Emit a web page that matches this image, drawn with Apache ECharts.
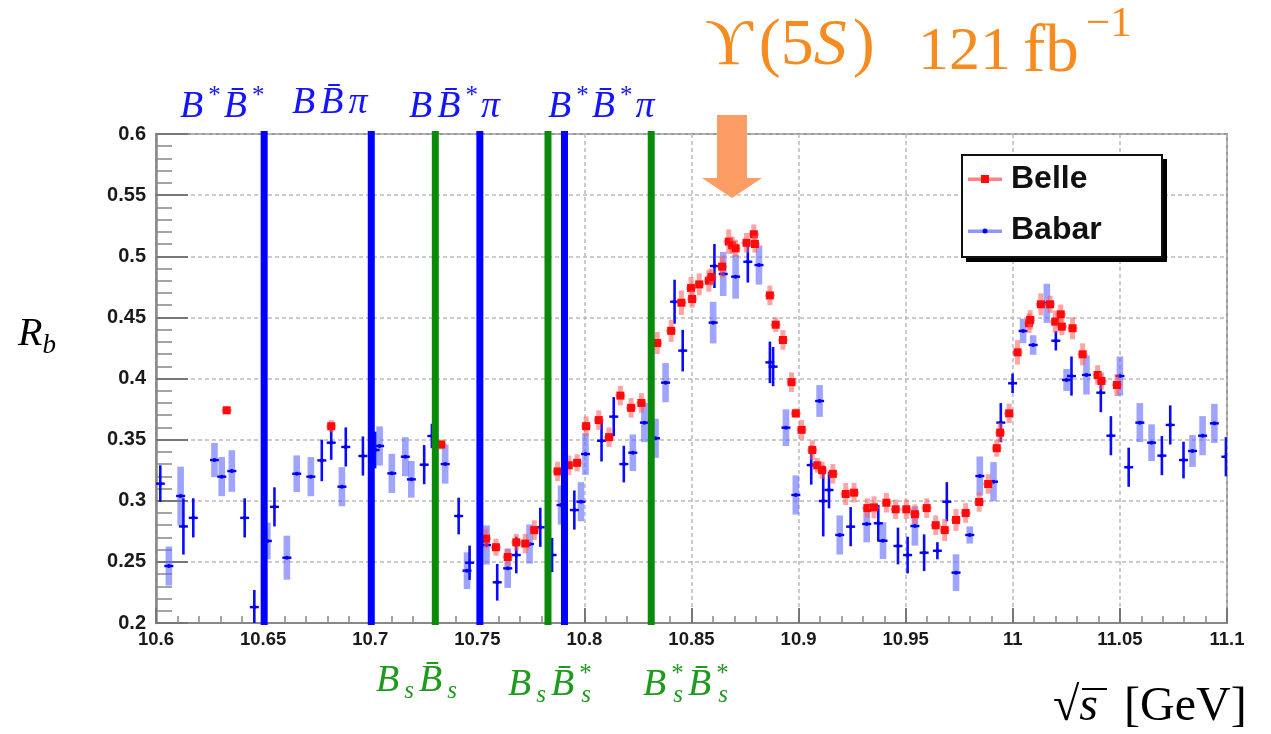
<!DOCTYPE html>
<html><head><meta charset="utf-8">
<script src="https://cdn.jsdelivr.net/npm/echarts@6/dist/echarts.min.js"></script>
<style>html,body{margin:0;padding:0;background:#fff}#c{width:1271px;height:734px}</style>
</head><body><div id="c"></div>
<script>
// ---- tick labels ----
const xTickLabels = ['10.6','10.65','10.7','10.75','10.8','10.85','10.9','10.95','11','11.05','11.1'];
const yTickLabels = ['0.2','0.25','0.3','0.35','0.4','0.45','0.5','0.55','0.6'];

// ---- Belle: sqrt(s), R_b, error ----
const belleX = [10.633,10.6818,10.7332,10.7541,10.7587,10.7642,10.7682,10.7724,10.7766,10.7875,10.7927,10.7966,10.8008,10.8067,10.8115,10.8168,10.8218,10.8266,10.834,10.8405,10.8453,10.8498,10.8503,10.8536,10.8581,10.8593,10.8643,10.8674,10.869,10.8706,10.8757,10.8791,10.8796,10.8866,10.8893,10.8927,10.8967,10.8987,10.9014,10.9064,10.9087,10.911,10.916,10.922,10.9259,10.9321,10.9352,10.941,10.9453,10.9503,10.9543,10.9598,10.964,10.9682,10.9735,10.978,10.9843,10.9885,10.9925,10.9941,10.9983,11.0022,11.0076,11.0081,11.0131,11.0174,11.0198,11.0224,11.0229,11.0279,11.0326,11.0396,11.0414,11.0486];
const belleY = [0.374,0.361,0.346,0.269,0.262,0.254,0.266,0.265,0.276,0.324,0.329,0.331,0.361,0.366,0.352,0.386,0.376,0.380,0.429,0.439,0.462,0.474,0.465,0.477,0.480,0.483,0.4915,0.512,0.509,0.5065,0.511,0.518,0.510,0.468,0.444,0.4315,0.397,0.3715,0.358,0.3415,0.329,0.325,0.322,0.3055,0.3066,0.294,0.2946,0.2984,0.293,0.293,0.289,0.294,0.280,0.276,0.2843,0.290,0.299,0.3137,0.343,0.3557,0.3715,0.4214,0.4452,0.4479,0.4607,0.4607,0.4465,0.4525,0.4424,0.4411,0.4198,0.4029,0.398,0.3947];
const belleErr = [0.002,0.005,0.004,0.008,0.007,0.007,0.007,0.008,0.008,0.008,0.008,0.007,0.008,0.008,0.008,0.008,0.008,0.008,0.009,0.009,0.010,0.009,0.007,0.009,0.009,0.007,0.009,0.010,0.007,0.007,0.008,0.008,0.007,0.008,0.006,0.008,0.008,0.004,0.008,0.008,0.006,0.007,0.008,0.009,0.008,0.008,0.009,0.008,0.008,0.008,0.008,0.008,0.008,0.009,0.009,0.008,0.008,0.008,0.007,0.008,0.008,0.010,0.008,0.008,0.009,0.007,0.009,0.008,0.007,0.009,0.009,0.008,0.007,0.009];

// ---- Babar points drawn with thin error bars ----
const babarThinX = [10.602,10.6128,10.6174,10.6414,10.6459,10.6553,10.6774,10.6818,10.6886,10.6966,10.7023,10.7252,10.7288,10.7413,10.7464,10.7593,10.7682,10.7794,10.7849,10.7953,10.808,10.8137,10.8184,10.8421,10.8459,10.8607,10.8763,10.8866,10.8881,10.9059,10.9115,10.9142,10.9243,10.9372,10.9464,10.9509,10.9586,10.9648,10.9692,10.9944,10.9999,11.0201,11.0274,11.0411,11.0458,11.0541,11.0696,11.0735,11.0797,11.0995];
const babarThinY = [0.314,0.279,0.286,0.286,0.213,0.295,0.333,0.3475,0.344,0.3366,0.3415,0.3295,0.353,0.2875,0.2493,0.2333,0.2556,0.2783,0.2556,0.2924,0.3491,0.3688,0.330,0.4628,0.4228,0.492,0.4955,0.4132,0.4097,0.3292,0.2998,0.3088,0.2788,0.2816,0.263,0.2556,0.2575,0.2591,0.2992,0.3639,0.3961,0.4309,0.402,0.3884,0.3532,0.3274,0.3369,0.362,0.3333,0.336];
const babarThinErr = [0.015,0.023,0.016,0.016,0.014,0.016,0.017,0.014,0.016,0.016,0.015,0.016,0.010,0.015,0.014,0.015,0.015,0.016,0.014,0.016,0.017,0.016,0.015,0.018,0.017,0.018,0.017,0.017,0.016,0.016,0.029,0.015,0.016,0.015,0.015,0.015,0.015,0.007,0.016,0.016,0.008,0.008,0.016,0.016,0.016,0.016,0.016,0.016,0.015,0.016];

// ---- Babar points drawn with wide error bars ----
const babarWideX = [10.606,10.6115,10.6273,10.6307,10.6354,10.652,10.6611,10.6657,10.6723,10.6868,10.7044,10.7101,10.7164,10.7192,10.735,10.7452,10.7543,10.7642,10.7744,10.7891,10.7984,10.8005,10.8226,10.828,10.8332,10.8379,10.8601,10.8648,10.8706,10.8815,10.8941,10.8987,10.9098,10.9192,10.9318,10.9394,10.9543,10.9735,10.9799,10.9846,10.991,11.0048,11.0095,11.0159,11.0251,11.0344,11.05,11.0593,11.0648,11.0839,11.0886,11.0941];
const babarWideY = [0.2466,0.3039,0.3333,0.3197,0.3243,0.2671,0.2534,0.3221,0.3197,0.3115,0.3448,0.3224,0.336,0.3175,0.330,0.2428,0.2638,0.2447,0.2646,0.2965,0.2992,0.3382,0.3393,0.3639,0.3511,0.3966,0.4457,0.4855,0.4833,0.4928,0.3598,0.3047,0.3816,0.272,0.281,0.2673,0.2793,0.2412,0.272,0.3202,0.3156,0.4389,0.4274,0.4615,0.3988,0.4029,0.402,0.3639,0.3475,0.3407,0.3532,0.3633];
const babarWideErr = [0.016,0.024,0.014,0.016,0.017,0.015,0.018,0.015,0.016,0.016,0.016,0.016,0.016,0.015,0.016,0.015,0.016,0.016,0.016,0.016,0.016,0.017,0.015,0.016,0.016,0.016,0.017,0.018,0.018,0.016,0.015,0.016,0.013,0.016,0.015,0.015,0.016,0.015,0.007,0.016,0.016,0.010,0.008,0.016,0.009,0.016,0.016,0.016,0.015,0.013,0.016,0.016];

// ---- thresholds (GeV) ----
const blueThresholds = [10.6505,10.7005,10.7512,10.7907];
const greenThresholds = [10.7304,10.7830,10.8312];

const zip3 = (a,b,c) => a.map((v,i)=>[v,b[i],c[i]]);

function makeRender(kind){
  return function(params, api){
    const x = api.value(0), y = api.value(1), e = api.value(2);
    const p = api.coord([x,y]), t = api.coord([x,y+e]), b = api.coord([x,y-e]);
    const ch = [];
    if (kind === 'belle'){
      ch.push({type:'rect', shape:{x:p[0]-2.5, y:t[1], width:5, height:b[1]-t[1]}, style:{fill:'rgba(255,90,90,0.55)'}});
      ch.push({type:'rect', shape:{x:p[0]-5, y:p[1]-1.5, width:10, height:3}, style:{fill:'rgba(255,90,90,0.55)'}});
      ch.push({type:'rect', shape:{x:p[0]-4, y:p[1]-4, width:8, height:8}, style:{fill:'#ff0a0a'}});
    } else if (kind === 'wide'){
      ch.push({type:'rect', shape:{x:p[0]-3.3, y:t[1], width:6.6, height:b[1]-t[1]}, style:{fill:'rgba(95,105,255,0.6)'}});
      ch.push({type:'rect', shape:{x:p[0]-4.5, y:p[1]-1.2, width:9, height:2.4}, style:{fill:'#0000ee'}});
      ch.push({type:'circle', shape:{cx:p[0], cy:p[1], r:2}, style:{fill:'#0000ee'}});
    } else {
      ch.push({type:'rect', shape:{x:p[0]-1.3, y:t[1], width:2.6, height:b[1]-t[1]}, style:{fill:'#0a0aff'}});
      ch.push({type:'rect', shape:{x:p[0]-4.5, y:p[1]-1.2, width:9, height:2.4}, style:{fill:'#0000ee'}});
      ch.push({type:'circle', shape:{cx:p[0], cy:p[1], r:2}, style:{fill:'#0000ee'}});
    }
    return {type:'group', children:ch};
  };
}
function lineRender(color){
  return function(params, api){
    const x = api.value(0);
    const t = api.coord([x,0.6]), b = api.coord([x,0.2]);
    return {type:'rect', shape:{x:t[0]-3.5, y:t[1]-3, width:7, height:b[1]-t[1]+5}, style:{fill:color}};
  };
}

const chart = echarts.init(document.getElementById('c'));
const serif = "'Liberation Serif','DejaVu Serif',serif";
const blue = '#1414ff', green = '#1f9a1f', orange = '#f68b1f';

function lab(text, x, y, color){
  return {type:'text', left:x, top:y, z:50, style:{text:text, fill:color,
    rich:{
      m:{fontFamily:serif, fontStyle:'italic', fontSize:38, lineHeight:46, padding:[0,5,0,0], fill:color},
      p:{fontFamily:serif, fontStyle:'normal', fontSize:25, lineHeight:26, padding:[0,3,0,0], verticalAlign:'top', fill:color},
      q:{fontFamily:serif, fontStyle:'normal', fontSize:25, lineHeight:26, verticalAlign:'top', width:2, fill:color},
      s:{fontFamily:serif, fontStyle:'italic', fontSize:25, lineHeight:24, padding:[0,5,0,0], verticalAlign:'bottom', fill:color}
    }}};
}
function otext(text, x, y, size, italic){
  return {type:'text', left:x, top:y, z:50, style:{text:text, fill:orange,
    font:(italic?'italic ':'')+size+'px '+serif}};
}

chart.setOption({
  animation:false,
  grid:{left:156, right:44, top:134, bottom:111, show:true, borderColor:'#999', borderWidth:2, backgroundColor:'transparent'},
  xAxis:{type:'value', min:10.6, max:11.1, interval:0.05,
    axisLine:{show:true, onZero:false, lineStyle:{color:'#888', width:2}},
    axisTick:{show:true, inside:true, length:15, lineStyle:{color:'#777', width:2}},
    minorTick:{show:true, splitNumber:5, length:7, lineStyle:{color:'#888', width:1.5}},
    splitLine:{show:true, lineStyle:{color:'#bbb', type:[4,3], width:1.5}},
    axisLabel:{margin:7, color:'#1a1a1a', fontFamily:"'Liberation Sans',Arial,sans-serif", fontWeight:'bold', fontSize:18.5,
      formatter:v=>xTickLabels[Math.round((v-10.6)/0.05)]}},
  yAxis:{type:'value', min:0.2, max:0.6, interval:0.05,
    axisLine:{show:true, onZero:false, lineStyle:{color:'#888', width:2.5}},
    axisTick:{show:true, inside:true, length:32, lineStyle:{color:'#777', width:2}},
    minorTick:{show:true, splitNumber:5, length:16, lineStyle:{color:'#888', width:1.5}},
    splitLine:{show:true, lineStyle:{color:'#bbb', type:[4,3], width:1.5}},
    axisLabel:{margin:10, color:'#1a1a1a', fontFamily:"'Liberation Sans',Arial,sans-serif", fontWeight:'bold', fontSize:20,
      formatter:v=>yTickLabels[Math.round((v-0.2)/0.05)]}},
  series:[
    {name:'Babar', type:'custom', clip:true, z:3, renderItem:makeRender('wide'), data:zip3(babarWideX,babarWideY,babarWideErr)},
    {name:'Babar', type:'custom', clip:true, z:3, renderItem:makeRender('thin'), data:zip3(babarThinX,babarThinY,babarThinErr)},
    {name:'Belle', type:'custom', clip:true, z:4, renderItem:makeRender('belle'), data:zip3(belleX,belleY,belleErr)},
    {name:'thresholdsB', type:'custom', z:6, renderItem:lineRender('#0000ff'), data:blueThresholds.map(v=>[v])},
    {name:'thresholdsBs', type:'custom', z:6, renderItem:lineRender('#0a8a0a'), data:greenThresholds.map(v=>[v])}
  ],
  graphic:[
    // legend
    {type:'rect', shape:{x:966, y:159, width:201, height:103}, style:{fill:'#000'}, z:40},
    {type:'rect', shape:{x:962, y:155, width:200, height:102}, style:{fill:'#fff', stroke:'#111', lineWidth:2}, z:41},
    {type:'rect', shape:{x:968, y:177.5, width:34, height:3.5}, style:{fill:'rgba(255,90,90,0.75)'}, z:42},
    {type:'rect', shape:{x:981, y:175, width:8, height:8}, style:{fill:'#ff0a0a'}, z:43},
    {type:'rect', shape:{x:968, y:229.5, width:34, height:3.5}, style:{fill:'rgba(95,105,255,0.7)'}, z:42},
    {type:'circle', shape:{cx:985, cy:231, r:2.5}, style:{fill:'#0000ee'}, z:43},
    {type:'text', left:1011, top:163, z:43, style:{text:'Belle', fill:'#111', font:"bold 32px 'Liberation Sans',Arial,sans-serif"}},
    {type:'text', left:1011, top:214, z:43, style:{text:'Babar', fill:'#111', font:"bold 32px 'Liberation Sans',Arial,sans-serif"}},
    // arrow
    {type:'polygon', z:30, shape:{points:[[717,115],[747,115],[747,178],[762,178],[732,198],[702,178],[717,178]]}, style:{fill:'#fd9d66'}},
    // title
    {type:'text', left:705, top:14, z:50, style:{text:'{y|ϒ}{n|(5}{i|S}{n|)}', fill:orange,
      rich:{
        y:{fontFamily:serif, fontSize:66, lineHeight:72, padding:[0,6,0,0], fill:orange},
        n:{fontFamily:serif, fontSize:66, lineHeight:72, fill:orange},
        i:{fontFamily:serif, fontStyle:'italic', fontSize:66, lineHeight:72, padding:[0,6,0,0], fill:orange}
      }}},
    otext('121', 918, 22, 62, false),
    otext('fb', 1023, 20, 67, false),
    otext('−1', 1086, 3, 43, false),
    // blue labels
    lab('{m|B}{p|*}{m|B\u0304}{p|*}', 180, 84, blue),
    lab('{m|B}{m|B\u0304}{m|π}', 292, 84, blue),
    lab('{m|B}{m|B\u0304}{p|*}{m|π}', 409, 84, blue),
    lab('{m|B}{p|*}{m|B\u0304}{p|*}{m|π}', 548, 84, blue),
    // green labels
    lab('{m|B}{s|s}{m|B\u0304}{s|s}', 376, 662, green),
    lab('{m|B}{s|s}{m|B\u0304}{q|*}{s|s}', 508, 662, green),
    lab('{m|B}{q|*}{s|s}{m|B\u0304}{q|*}{s|s}', 643, 662, green),
    // axis titles
    {type:'text', left:18, top:314, z:50, style:{text:'{m|R}{s|b}', rich:{
      m:{fontFamily:serif, fontStyle:'italic', fontSize:40, lineHeight:50, fill:'#000'},
      s:{fontFamily:serif, fontStyle:'italic', fontSize:27, lineHeight:26, verticalAlign:'bottom', fill:'#000'}}}},
    {type:'text', left:1053, top:683, z:50, style:{text:'{n|√}{i|s}{sp| }{n|[GeV]}', rich:{
      n:{fontFamily:serif, fontSize:48, lineHeight:52, fill:'#000'},
      i:{fontFamily:serif, fontStyle:'italic', fontSize:48, lineHeight:52, fill:'#000'},
      sp:{fontSize:20, width:26}}}},
    {type:'rect', z:50, shape:{x:1082, y:688, width:25, height:2}, style:{fill:'#000'}}
  ]
});
</script></body></html>
